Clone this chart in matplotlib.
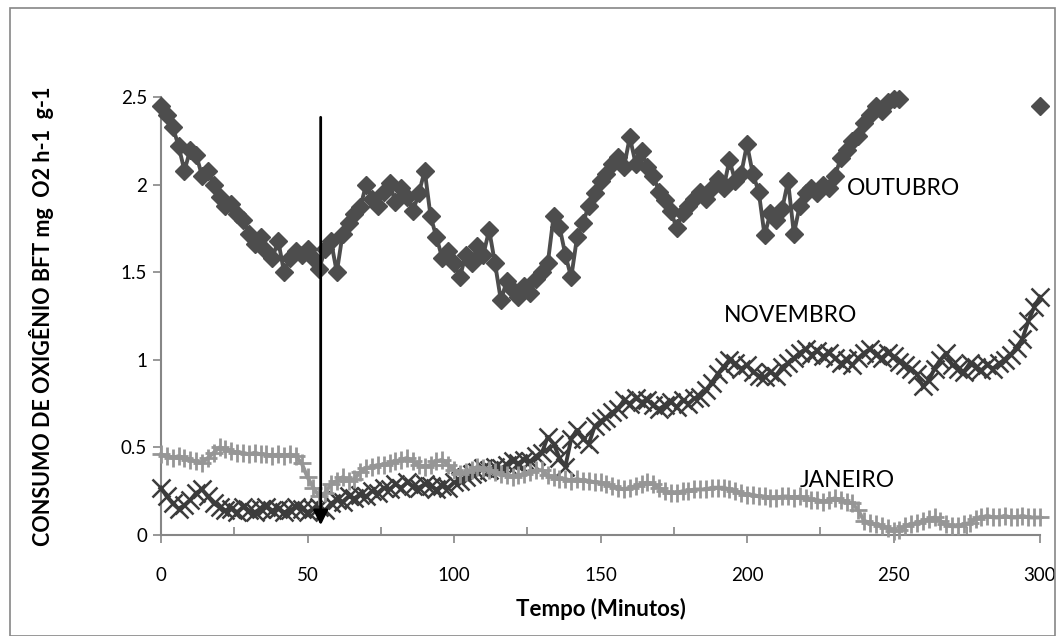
import numpy as np
import matplotlib
matplotlib.use("Agg")
import matplotlib.pyplot as plt
from matplotlib.patches import Rectangle

plt.rcParams['font.family'] = ['Lato', 'DejaVu Sans']

# time axis (minutes), sampled every 2 minutes
t = np.arange(0, 301, 2)

outubro = [2.45, 2.40, 2.33, 2.22, 2.08, 2.20, 2.17, 2.05, 2.08, 2.00,
           1.93, 1.88, 1.89, 1.83, 1.80, 1.72, 1.66, 1.70, 1.62, 1.58,
           1.68, 1.50, 1.58, 1.62, 1.60, 1.63, 1.58, 1.52, 1.63, 1.68,
           1.50, 1.72, 1.78, 1.83, 1.87, 2.00, 1.92, 1.88, 1.96, 2.01,
           1.90, 1.98, 1.93, 1.85, 1.95, 2.08, 1.82, 1.70, 1.58, 1.62,
           1.55, 1.47, 1.60, 1.55, 1.65, 1.60, 1.74, 1.55, 1.34, 1.45,
           1.40, 1.36, 1.42, 1.38, 1.46, 1.50, 1.55, 1.82, 1.76, 1.60,
           1.47, 1.70, 1.78, 1.88, 1.95, 2.02, 2.06, 2.12, 2.16, 2.10,
           2.27, 2.12, 2.19, 2.10, 2.05, 1.96, 1.91, 1.85, 1.75, 1.84,
           1.88, 1.92, 1.96, 1.92, 1.98, 2.03, 1.98, 2.14, 2.02, 2.06,
           2.23, 2.06, 1.96, 1.71, 1.84, 1.80, 1.86, 2.02, 1.72, 1.88,
           1.95, 1.98, 1.95, 2.00, 1.98, 2.05, 2.15, 2.20, 2.25, 2.28,
           2.35, 2.40, 2.45, 2.42, 2.47, 2.49, 2.49]
outubro_last_t = 300
outubro_last = 2.45

novembro = [0.27, 0.22, 0.18, 0.15, 0.17, 0.20, 0.24, 0.26, 0.22, 0.18,
            0.16, 0.14, 0.15, 0.13, 0.16, 0.14, 0.13, 0.15, 0.16, 0.14,
            0.15, 0.13, 0.14, 0.16, 0.15, 0.13, 0.15, 0.16, 0.14, 0.18,
            0.20, 0.19, 0.22, 0.21, 0.23, 0.22, 0.25, 0.24, 0.27, 0.26,
            0.29, 0.27, 0.30, 0.28, 0.27, 0.29, 0.28, 0.26, 0.28, 0.27,
            0.30, 0.31, 0.33, 0.35, 0.36, 0.38, 0.37, 0.39, 0.38, 0.40,
            0.42, 0.41, 0.43, 0.42, 0.45, 0.47, 0.56, 0.52, 0.44, 0.39,
            0.55, 0.60, 0.55, 0.52, 0.62, 0.65, 0.67, 0.70, 0.72, 0.77,
            0.75, 0.78, 0.76, 0.77, 0.74, 0.72, 0.74, 0.76, 0.73, 0.77,
            0.75, 0.78, 0.79, 0.83, 0.87, 0.92, 0.96, 1.00, 0.98, 0.95,
            0.97, 0.93, 0.91, 0.90, 0.93, 0.91, 0.96, 0.98, 1.01, 1.04,
            1.06, 1.03, 1.05, 1.02, 1.04, 1.01, 0.98, 1.00, 0.97, 1.01,
            1.04, 1.06, 1.03, 1.01, 1.04, 1.02, 0.99, 0.97, 0.95, 0.92,
            0.85, 0.88, 0.95, 1.00, 1.04, 0.97, 0.95, 0.93, 0.98, 0.96,
            0.94, 0.97, 0.95, 0.98, 1.00, 1.03, 1.07, 1.12, 1.22, 1.30,
            1.36]

janeiro = [0.46, 0.45, 0.44, 0.45, 0.44, 0.43, 0.42, 0.41, 0.44, 0.47,
           0.50, 0.49, 0.48, 0.47, 0.47, 0.46, 0.47, 0.46, 0.46, 0.45,
           0.46, 0.45, 0.46, 0.45, 0.41, 0.33, 0.27, 0.22, 0.24, 0.29,
           0.31, 0.33, 0.31, 0.32, 0.36, 0.38, 0.39, 0.40, 0.40, 0.41,
           0.42, 0.43, 0.44, 0.42, 0.40, 0.39, 0.40, 0.42, 0.43, 0.40,
           0.37, 0.35, 0.36, 0.37, 0.39, 0.38, 0.37, 0.36, 0.35, 0.34,
           0.33, 0.34, 0.35, 0.36, 0.37, 0.37, 0.34, 0.33, 0.32, 0.32,
           0.31, 0.32, 0.31, 0.31, 0.30, 0.30, 0.29, 0.28, 0.27, 0.26,
           0.27, 0.28, 0.29, 0.30, 0.29, 0.27, 0.25, 0.24, 0.24, 0.25,
           0.25, 0.26, 0.26, 0.26, 0.27, 0.27, 0.27, 0.26, 0.25, 0.24,
           0.23, 0.23, 0.22, 0.22, 0.21, 0.21, 0.22, 0.22, 0.21, 0.22,
           0.21, 0.20, 0.20, 0.19, 0.20, 0.21, 0.20, 0.19, 0.18, 0.14,
           0.08, 0.07, 0.06, 0.05, 0.04, 0.02, 0.03, 0.05, 0.06, 0.07,
           0.08, 0.09, 0.10, 0.08, 0.06, 0.05, 0.05, 0.06, 0.07, 0.09,
           0.10, 0.11, 0.10, 0.10, 0.11, 0.10, 0.10, 0.11, 0.10, 0.10,
           0.10]

fig = plt.figure(figsize=(10.62, 6.36), dpi=100)
ax = fig.add_axes([161/1062, 1 - 535/636, (1040-161)/1062, (535-97)/636])

# outer chart frame like Excel
fig.patches.append(Rectangle((10/1062, 0), 1045/1062, 1 - 8/636, transform=fig.transFigure,
                             fill=False, edgecolor='#868686', linewidth=1.2))

ax.plot(t[:len(outubro)], outubro, color='#4d4d4d', marker='D', ms=9.5, lw=2.8, clip_on=False, zorder=3)
ax.plot([outubro_last_t], [outubro_last], color='#4d4d4d', marker='D', ms=9.5, lw=0, clip_on=False, zorder=3)
ax.plot(t, novembro, color='#3c3c3c', marker='x', ms=13, mew=1.8, lw=2.8, clip_on=False, zorder=3)
ax.plot(t, janeiro, color='#969696', marker='+', ms=13, mew=2, lw=2.8, clip_on=False, zorder=3)

ax.annotate('', xy=(54.5, 0.04), xytext=(54.5, 2.4),
            arrowprops=dict(arrowstyle='-|>', color='black', lw=2, mutation_scale=22), zorder=5)

ax.text(234, 1.98, 'OUTUBRO', fontsize=16.5, va='center', ha='left')
ax.text(192, 1.25, 'NOVEMBRO', fontsize=16.5, va='center', ha='left')
ax.text(218, 0.31, 'JANEIRO', fontsize=16.5, va='center', ha='left')

ax.set_xlim(0, 300)
ax.set_ylim(0, 2.5)
ax.set_xticks(np.arange(0, 301, 50))
ax.set_xticks(np.arange(25, 300, 50), minor=True)
ax.set_yticks([0, 0.5, 1, 1.5, 2, 2.5])
ax.set_yticklabels(['0', '0.5', '1', '1.5', '2', '2.5'])

for s in ['top', 'right']:
    ax.spines[s].set_visible(False)
for s in ['left', 'bottom']:
    ax.spines[s].set_color('#868686')
    ax.spines[s].set_linewidth(1.5)

ax.tick_params(axis='both', which='major', direction='out', length=6, color='#868686',
               width=1.2, labelsize=13.5)
ax.tick_params(axis='x', which='major', pad=17)
ax.tick_params(axis='y', which='major', pad=4)
ax.tick_params(axis='x', which='minor', direction='in', length=6, color='#868686', width=1.2)

ax.set_xlabel('Tempo (Minutos)', fontsize=16, fontweight='bold', labelpad=10)
ax.set_ylabel('CONSUMO DE OXIGÊNIO BFT mg  O2 h-1  g-1', fontsize=15.5, fontweight='bold', labelpad=48)

fig.savefig('out.png', dpi=100)
